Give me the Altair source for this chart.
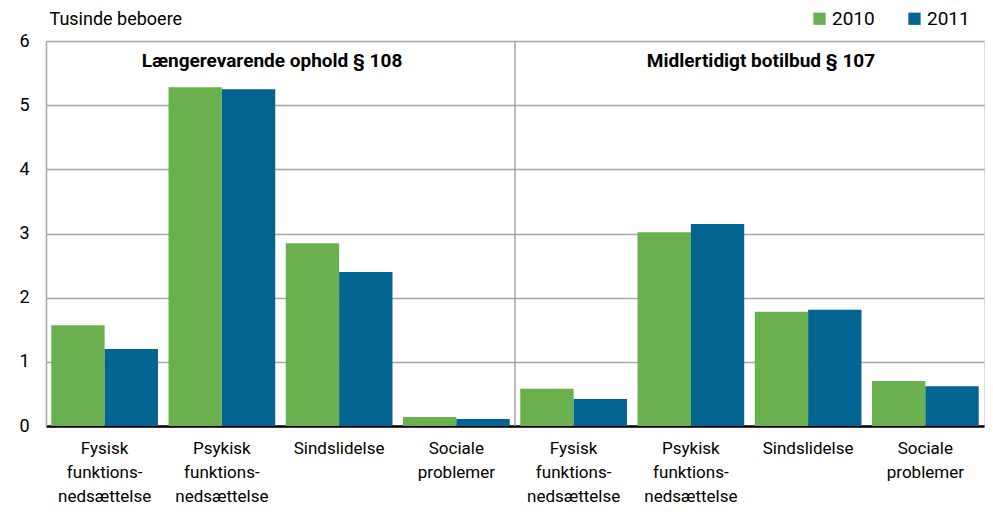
import altair as alt
import pandas as pd

panels = ["Længerevarende ophold § 108", "Midlertidigt botilbud § 107"]
categories = ["Fysisk|funktions-|nedsættelse", "Psykisk|funktions-|nedsættelse",
              "Sindslidelse", "Sociale|problemer"]
years = ["2010", "2011"]
values_108 = {"2010": [1.57, 5.28, 2.85, 0.14], "2011": [1.20, 5.25, 2.40, 0.11]}
values_107 = {"2010": [0.58, 3.02, 1.78, 0.70], "2011": [0.42, 3.15, 1.81, 0.62]}
colors = ["#6AB04F", "#036391"]

rows = []
order = []
for pi, vals in enumerate([values_108, values_107]):
    for ci, cat in enumerate(categories):
        key = f"{pi}{ci}|{cat}"
        order.append(key)
        for y in years:
            rows.append({"key": key, "year": y, "value": vals[y][ci]})
df = pd.DataFrame(rows)

W, H = 938, 385
FONT = "Roboto"

bars = alt.Chart(df).mark_bar().encode(
    x=alt.X("key:N", sort=order, title=None,
            scale=alt.Scale(paddingInner=0.09, paddingOuter=0.045),
            axis=alt.Axis(labelExpr="slice(split(datum.value, '|'), 1)",
                          labelAngle=0, labelFontSize=17, labelColor="#000",
                          labelFont=FONT, labelBaseline="top", labelPadding=14,
                          labelLineHeight=24, ticks=False,
                          domainColor="#000", domainWidth=2.5)),
    xOffset=alt.XOffset("year:N", sort=years),
    y=alt.Y("value:Q", scale=alt.Scale(domain=[0, 6], nice=False),
            axis=alt.Axis(values=[0, 1, 2, 3, 4, 5, 6], ticks=False,
                          labelFontSize=18, labelColor="#000", labelFont=FONT,
                          labelPadding=17, gridColor="#a6a6a6", gridWidth=1.5,
                          domainColor="#a6a6a6", domainWidth=1.5,
                          title="Tusinde beboere", titleAngle=0, titleAlign="left",
                          titleBaseline="alphabetic", titleX=3, titleY=-17,
                          titleFontSize=18, titleFontWeight="normal",
                          titleFont=FONT, titleColor="#000")),
    color=alt.Color("year:N", sort=years,
                    scale=alt.Scale(domain=years, range=colors),
                    legend=alt.Legend(title=None, orient="none", legendX=764,
                                      legendY=-32, direction="horizontal",
                                      symbolType="square", symbolSize=150,
                                      symbolStrokeWidth=0, labelFontSize=19,
                                      labelFont=FONT, labelColor="#000",
                                      columnPadding=30, labelOffset=3)),
)

divider = alt.Chart(pd.DataFrame({"d": [0]})).mark_rule(
    color="#a6a6a6", strokeWidth=1.5
).encode(x=alt.value(W / 2), y=alt.value(0), y2=alt.value(H))

t1 = alt.Chart(pd.DataFrame({"t": [panels[0]]})).mark_text(
    fontSize=19, fontWeight="bold", font=FONT, color="#000", align="center"
).encode(x=alt.value(226), y=alt.value(20), text="t:N")
t2 = alt.Chart(pd.DataFrame({"t": [panels[1]]})).mark_text(
    fontSize=19, fontWeight="bold", font=FONT, color="#000", align="center"
).encode(x=alt.value(715), y=alt.value(20), text="t:N")

chart = alt.layer(bars, divider, t1, t2).properties(
    width=W, height=H,
    autosize=alt.AutoSizeParams(type="none"),
    padding={"left": 38, "top": 33, "right": 1, "bottom": 82},
).configure_view(stroke="#a6a6a6", strokeWidth=1.5).configure(background="white")

chart.save("out.html", embed_options={"renderer": "svg", "actions": False})
